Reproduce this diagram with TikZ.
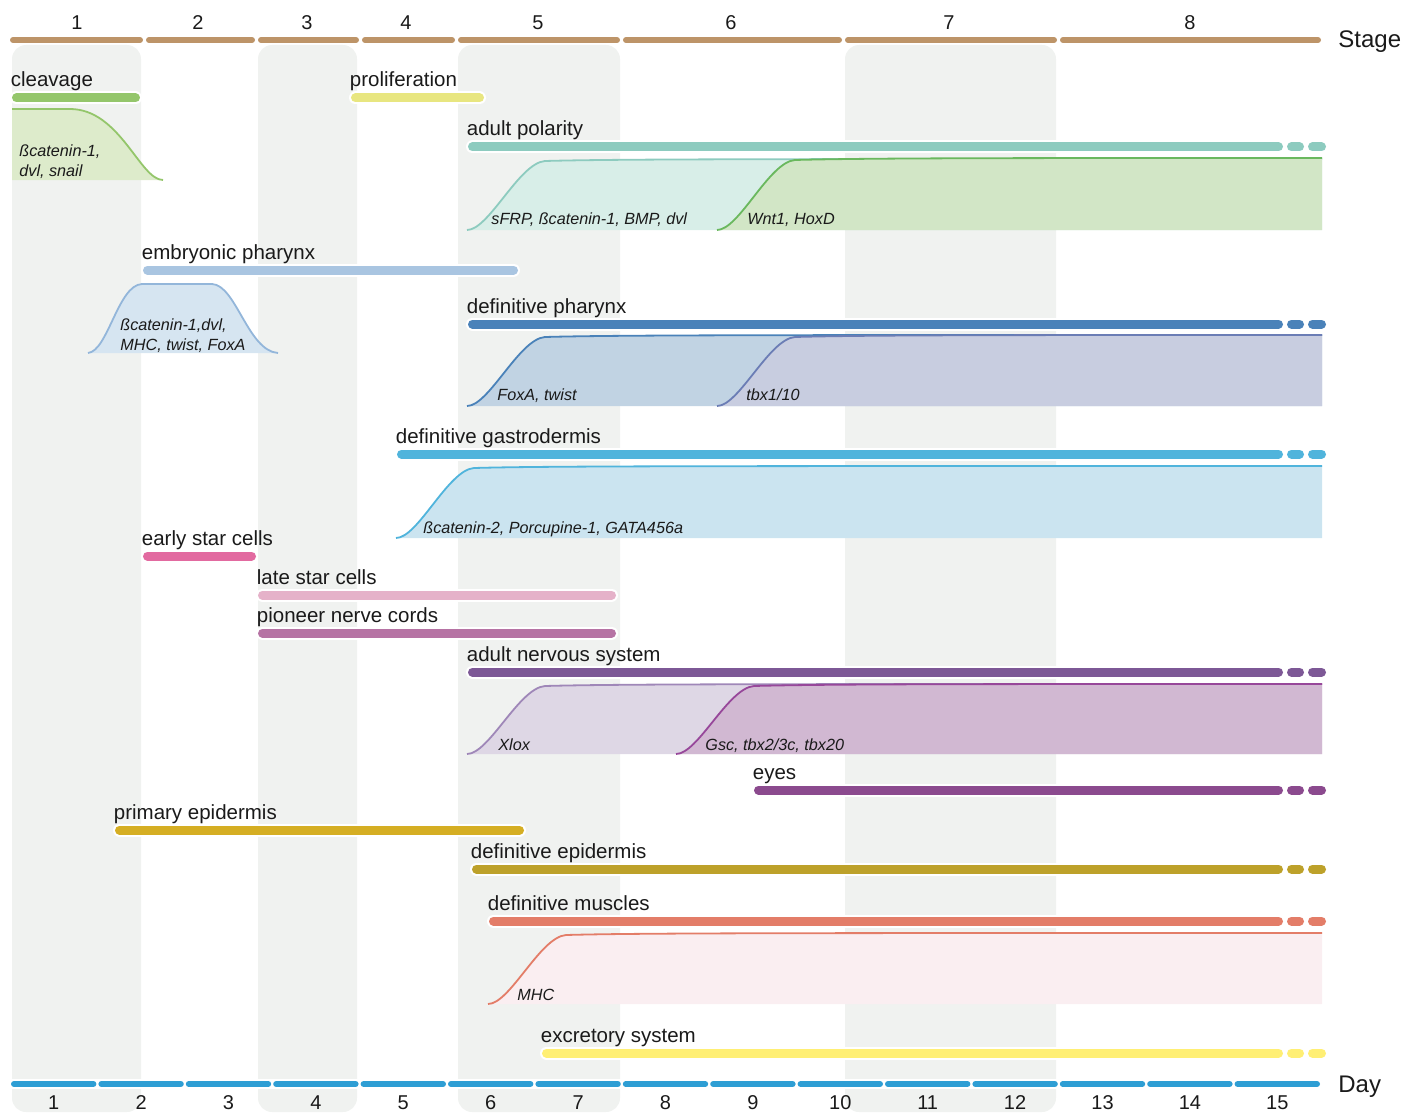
\documentclass[tikz,border=0pt]{standalone}
\usepackage{fontspec}
\setmainfont{Liberation Sans}
\definecolor{stagec}{HTML}{BD9468}
\definecolor{dayc}{HTML}{2E9ED4}
\definecolor{colgray}{HTML}{F0F2F0}
\definecolor{inkc}{HTML}{1A1A1A}
\definecolor{cleavc}{HTML}{94C66B}
\definecolor{cleavf}{HTML}{DDEBCB}
\definecolor{prolc}{HTML}{E8E680}
\definecolor{polc}{HTML}{8DCBBF}
\definecolor{polf}{HTML}{D8EEE8}
\definecolor{wntc}{HTML}{6AB85E}
\definecolor{wntf}{HTML}{D2E6C6}
\definecolor{embc}{HTML}{A9C5E1}
\definecolor{embl}{HTML}{93B6DA}
\definecolor{embf}{HTML}{D6E5F1}
\definecolor{phac}{HTML}{4A82B9}
\definecolor{phaf}{HTML}{C1D3E3}
\definecolor{tbxc}{HTML}{6B7DB5}
\definecolor{tbxf}{HTML}{C8CDE0}
\definecolor{gasc}{HTML}{50B4DC}
\definecolor{gasf}{HTML}{CBE4F0}
\definecolor{estarc}{HTML}{E26AA0}
\definecolor{lstarc}{HTML}{E5B2C9}
\definecolor{pionc}{HTML}{B673A4}
\definecolor{nervc}{HTML}{7D5896}
\definecolor{xloxc}{HTML}{9F87B8}
\definecolor{xloxf}{HTML}{DED7E5}
\definecolor{gscc}{HTML}{97479A}
\definecolor{gscf}{HTML}{D1B8D2}
\definecolor{eyec}{HTML}{8B4A8E}
\definecolor{pepic}{HTML}{D5AE23}
\definecolor{depic}{HTML}{BDA12A}
\definecolor{musc}{HTML}{E37D68}
\definecolor{musf}{HTML}{FAEEF1}
\definecolor{excc}{HTML}{FFEF74}

\newcommand\rowbar[6]{%
  \draw[halo] (#4+4.5,#3) -- (#5-4.5,#3);
  \draw[bar,#6] (#4+4.5,#3) -- (#5-4.5,#3);
  \node[lbl] (#1) at (#4-1.5,#3-11) {#2};}
\newcommand\longbar[5]{%
  \rowbar{#1}{#2}{#3}{#4}{1283}{#5}
  \foreach \a/\b in {1287/1304,1308/1326}{
    \draw[halo] (\a+4.5,#3) -- (\b-4.5,#3);
    \draw[bar,#5] (\a+4.5,#3) -- (\b-4.5,#3);}}
\newcommand\generise[5]{%
  \fill[#4] (#1,#2) .. controls (#1+22,#2) and (#1+52,#3+4) .. (#1+78,#3+2)
    .. controls (#1+150,#3) and (#1+300,#3) .. (1322,#3) -- (1322,#2) -- cycle;
  \draw[curve,#5] (#1,#2) .. controls (#1+22,#2) and (#1+52,#3+4) .. (#1+78,#3+2)
    .. controls (#1+150,#3) and (#1+300,#3) .. (1322,#3);}

\begin{document}
\begin{tikzpicture}[x=0.5pt, y=-0.5pt,
  lbl/.style={anchor=base west, inner sep=0pt, text=inkc, font=\fontsize{10.25}{12}\selectfont},
  gene/.style={anchor=base west, inner sep=0pt, text=inkc, font=\fontsize{8.1}{10}\selectfont\itshape},
  num/.style={inner sep=0pt, text=inkc, font=\fontsize{10}{12}\selectfont},
  axlbl/.style={anchor=west, inner sep=0pt, text=inkc, font=\fontsize{12}{14}\selectfont},
  halo/.style={white, line width=6.5pt, line cap=round},
  bar/.style={line width=4.5pt, line cap=round},
  curve/.style={line width=0.9pt},
  shade/.style={fill=colgray, rounded corners=7pt}]
\useasboundingbox (0,0) rectangle (1403,1113);

\foreach \a/\b in {12/141,258/357,458/620,845/1056}
  \fill[shade] (\a,45) rectangle (\b,1112);

\foreach \a/\b/\n/\x in {10/143/1/77, 146/255/2/198, 258/359/3/307, 362/455/4/406,
    458/620/5/538, 623/842/6/731, 845/1057/7/949, 1060/1321/8/1190}{
  \draw[stagec, line width=3pt, line cap=round] (\a+3,40) -- (\b-3,40);
  \node[num] (st\n) at (\x,23) {\n};}
\node[axlbl] (stage) at (1338,42) {Stage};

\draw[white, line width=5pt, line cap=round] (10,1084) -- (1321,1084);
\foreach \d in {1,...,15}{
  \draw[dayc, line width=3pt, line cap=round] ({10+(\d-1)*87.4+4},1084) -- ({10+\d*87.4-4},1084);
  \node[num] (dy\d) at ({10+(\d-0.5)*87.4},1103) {\d};}
\node[axlbl] (day) at (1338,1087) {Day};

\rowbar{clv}{cleavage}{98}{12}{140}{cleavc}
\rowbar{prl}{proliferation}{98}{351}{484}{prolc}
\longbar{pol}{adult polarity}{147}{468}{polc}
\rowbar{emb}{embryonic pharynx}{270}{143}{518}{embc}
\longbar{pha}{definitive pharynx}{324}{468}{phac}
\longbar{gas}{definitive gastrodermis}{454}{397}{gasc}
\rowbar{est}{early star cells}{556}{143}{256}{estarc}
\rowbar{lst}{late star cells}{595}{258}{616}{lstarc}
\rowbar{pnc}{pioneer nerve cords}{633}{258}{616}{pionc}
\longbar{ans}{adult nervous system}{672}{468}{nervc}
\longbar{eye}{eyes}{790}{754}{eyec}
\rowbar{pep}{primary epidermis}{830}{115}{524}{pepic}
\longbar{dep}{definitive epidermis}{869}{472}{depic}
\longbar{mus}{definitive muscles}{921}{489}{musc}
\longbar{exc}{excretory system}{1053}{542}{excc}

\fill[cleavf] (12,180) -- (12,109) -- (70,109) .. controls (120,109) and (140,180) .. (163,180) -- cycle;
\draw[curve,cleavc] (12,109) -- (70,109) .. controls (120,109) and (140,180) .. (163,180);
\node[gene, anchor=north west, align=left] (gclv) at (19,144) {ßcatenin-1,\\dvl, snail};

\fill[embf] (88,353) .. controls (108,351) and (118,285) .. (142,284) -- (212,284)
  .. controls (236,285) and (248,351) .. (278,353) -- cycle;
\draw[curve,embl] (88,353) .. controls (108,351) and (118,285) .. (142,284) -- (212,284)
  .. controls (236,285) and (248,351) .. (278,353);
\node[gene, anchor=north west, align=left] (gemb) at (120,318) {ßcatenin-1,dvl,\\MHC, twist, FoxA};

\generise{467}{230}{159}{polf}{polc}
\generise{717}{230}{158}{wntf}{wntc}
\node[gene] (gpol) at (491,224) {sFRP, ßcatenin-1, BMP, dvl};
\node[gene] (gwnt) at (747,224) {Wnt1, HoxD};

\generise{467}{406}{335}{phaf}{phac}
\generise{717}{406}{335}{tbxf}{tbxc}
\node[gene] (gfox) at (497,400) {FoxA, twist};
\node[gene] (gtbx) at (746,400) {tbx1/10};

\generise{396}{538}{466}{gasf}{gasc}
\node[gene] (ggas) at (423,533) {ßcatenin-2, Porcupine-1, GATA456a};

\generise{467}{754}{684}{xloxf}{xloxc}
\generise{676}{754}{684}{gscf}{gscc}
\node[gene] (gxlox) at (498,750) {Xlox};
\node[gene] (ggsc) at (705,750) {Gsc, tbx2/3c, tbx20};

\generise{488}{1004}{933}{musf}{musc}
\node[gene] (gmus) at (517,1000) {MHC};
\end{tikzpicture}
\end{document}
